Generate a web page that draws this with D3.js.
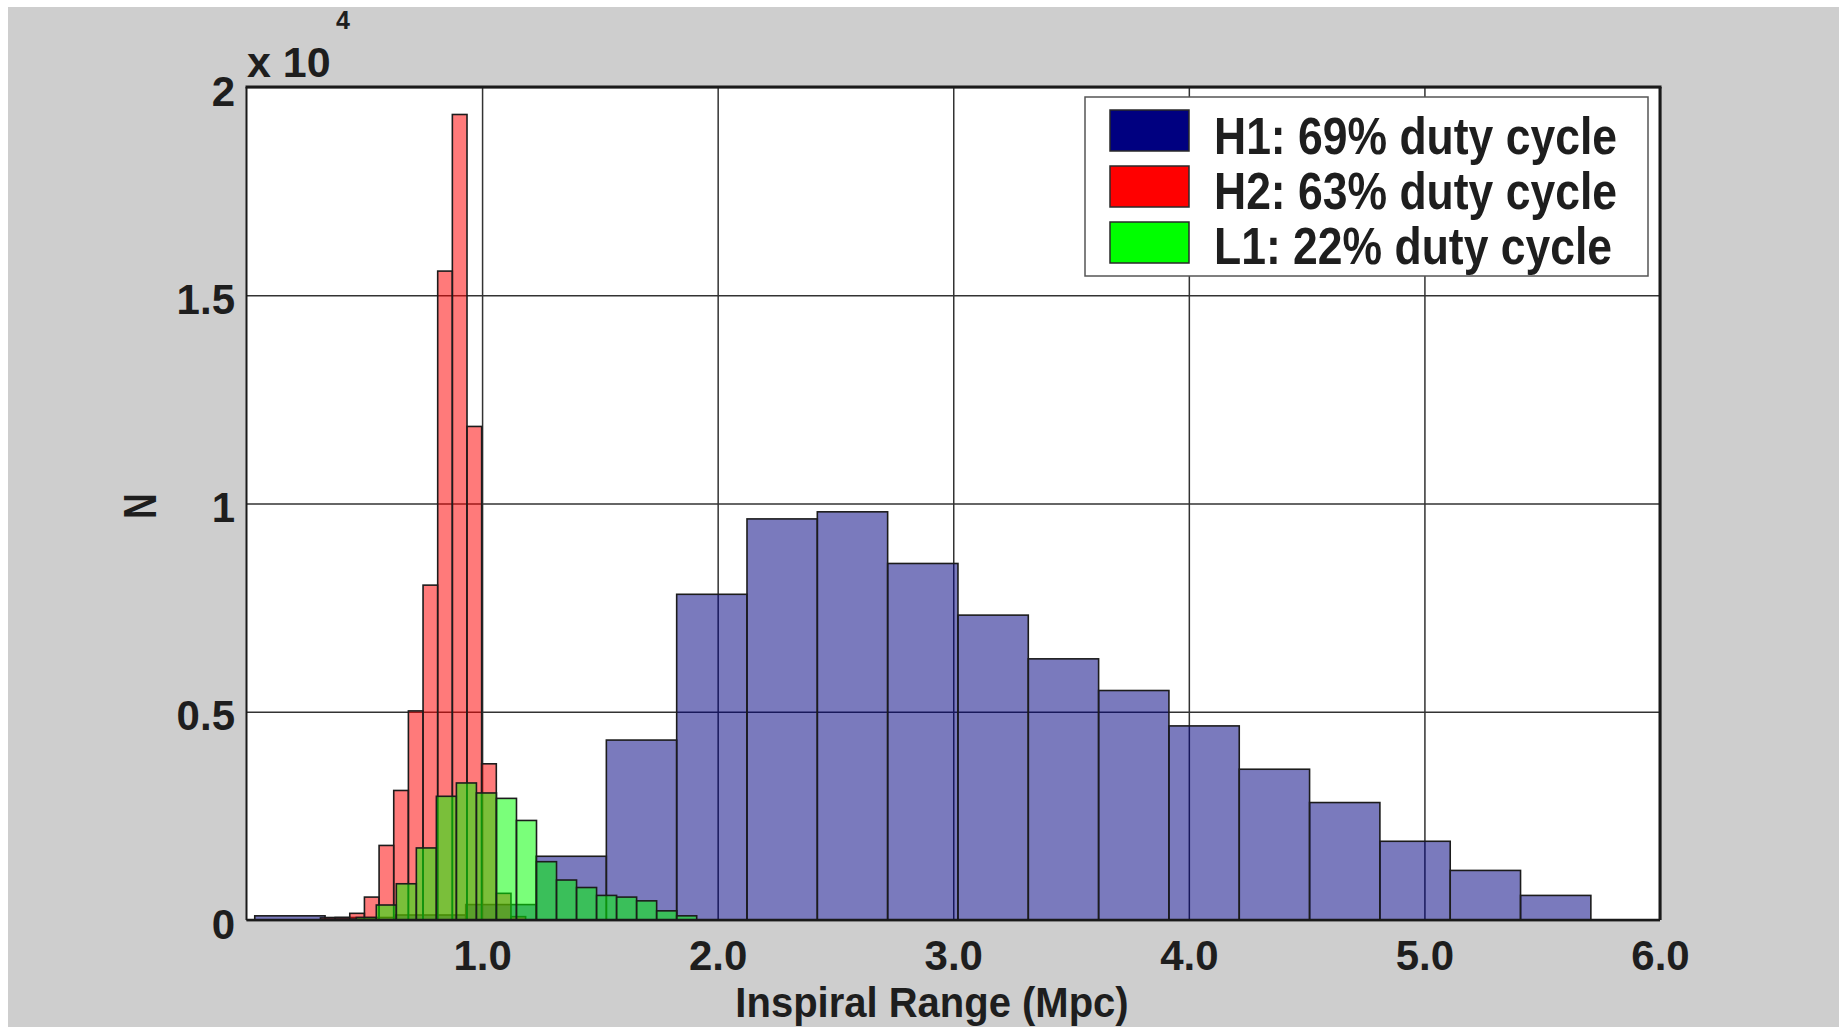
<!DOCTYPE html>
<html>
<head>
<meta charset="utf-8">
<script src="https://cdn.jsdelivr.net/npm/d3@7"></script>
<style>
  body { margin: 0; background: #ffffff; }
  svg text { font-family: "Liberation Sans", Arial, sans-serif; font-weight: bold; fill: #1e1e1e; }
</style>
</head>
<body>
<div id="histogram-inspiral-range"></div>
<script>
// histogram data: first bin edge, bin width (Mpc), counts per bin
const h1Start = 0.035, h1Width = 0.2985
const h1Counts = [100, 60, 120, 370, 1530, 4320, 7820, 9630, 9800, 8560, 7320, 6270, 5510, 4660, 3620, 2820, 1890, 1190, 590]

const h2Start = 0.314, h2Width = 0.0622
const h2Counts = [50, 60, 160, 550, 1790, 3110, 5020, 8040, 15580, 19340, 11850, 3750, 640, 80]

const l1Start = 0.381, l1Width = 0.085
const l1Counts = [20, 60, 360, 870, 1730, 2970, 3290, 3050, 2920, 2390, 1400, 960, 780, 590, 550, 460, 220, 100]

const detectors = ["H1", "H2", "L1"]
const legendLabels = ["H1: 69% duty cycle", "H2: 63% duty cycle", "L1: 22% duty cycle"]
const xTicks = [1, 2, 3, 4, 5, 6]
const yTicks = [0, 0.5e4, 1e4, 1.5e4, 2e4]

const W = 1839, H = 1027
const margin = {top: 87, right: 179, bottom: 107, left: 246.5},
    width = W - margin.left - margin.right,
    height = H - margin.top - margin.bottom;

const svg = d3.select("#histogram-inspiral-range")
  .append("svg")
  .attr("width", W)
  .attr("height", H)

// page background (thin white strip on top/left as in the picture)
svg.append("rect").attr("width", W).attr("height", H).attr("fill", "#ffffff")
svg.append("rect").attr("x", 8).attr("y", 7).attr("width", W - 8).attr("height", H - 7).attr("fill", "#cecece")

const g = svg.append("g")
  .attr("transform", `translate(${margin.left},${margin.top})`)

g.append("rect").attr("width", width).attr("height", height).attr("fill", "#ffffff")

const x = d3.scaleLinear().domain([0, 6]).range([0, width])
const y = d3.scaleLinear().domain([0, 2e4]).range([height, 0])

// X axis + vertical grid
const xAxis = g.append("g")
  .attr("transform", `translate(0, ${height})`)
  .call(d3.axisBottom(x).tickValues(xTicks).tickSize(-height).tickPadding(20).tickFormat(d3.format(".1f")))
xAxis.select(".domain").remove()
xAxis.selectAll("line").attr("stroke", "#333").attr("stroke-width", 1.5)
xAxis.selectAll("text")
  .style("font-size", "42px")
  .attr("fill", "#1e1e1e")

// Y axis + horizontal grid
const yAxis = g.append("g")
  .call(d3.axisLeft(y).tickValues(yTicks).tickSize(-width).tickPadding(11.5).tickFormat(d => d / 1e4))
yAxis.select(".domain").remove()
yAxis.selectAll("line").attr("stroke", "#333").attr("stroke-width", 1.5)
yAxis.selectAll("text")
  .style("font-size", "42px")
  .attr("dy", "18px")
  .attr("fill", "#1e1e1e")

// bars
function drawHist(start, binWidth, counts, color) {
  const bins = counts.map((c, i) => ({x0: start + i * binWidth, x1: start + (i + 1) * binWidth, n: c}))
  g.append("g")
    .selectAll("rect")
    .data(bins)
    .join("rect")
      .attr("x", d => x(d.x0))
      .attr("width", d => x(d.x1) - x(d.x0))
      .attr("y", d => y(d.n))
      .attr("height", d => y(0) - y(d.n))
      .attr("fill", color)
      .attr("fill-opacity", 0.52)
      .attr("stroke", "#1c1c1c")
      .attr("stroke-width", 1.6)
}

const color = d3.scaleOrdinal()
  .domain(detectors)
  .range(["#000080", "#ff0000", "#00ff00"])

drawHist(h1Start, h1Width, h1Counts, color("H1"))
drawHist(h2Start, h2Width, h2Counts, color("H2"))
drawHist(l1Start, l1Width, l1Counts, color("L1"))

// axes frame
g.append("line").attr("x1", 0).attr("x2", 0).attr("y1", 0).attr("y2", height).attr("stroke", "#1a1a1a").attr("stroke-width", 2)
g.append("line").attr("x1", 0).attr("x2", width).attr("y1", height).attr("y2", height).attr("stroke", "#1a1a1a").attr("stroke-width", 2.4)
g.append("line").attr("x1", -1).attr("x2", width + 1.5).attr("y1", 0).attr("y2", 0).attr("stroke", "#1a1a1a").attr("stroke-width", 3)
g.append("line").attr("x1", width).attr("x2", width).attr("y1", 0).attr("y2", height).attr("stroke", "#1a1a1a").attr("stroke-width", 3)

// exponent
svg.append("text")
  .attr("x", 247).attr("y", 76.5)
  .style("font-size", "43px")
  .text("x 10")
svg.append("text")
  .attr("x", 336).attr("y", 29)
  .style("font-size", "25px")
  .text("4")

// y label
svg.append("text")
  .attr("transform", "translate(140, 506) rotate(-90) scale(1, 1.3)")
  .attr("y", 12.5)
  .attr("text-anchor", "middle")
  .style("font-size", "35px")
  .text("N")

// x label
svg.append("text")
  .attr("transform", "translate(932, 1017) scale(1, 1.05)")
  .attr("text-anchor", "middle")
  .style("font-size", "40px")
  .text("Inspiral Range (Mpc)")

// legend
const legend = svg.append("g")
  .attr("transform", "translate(1085, 97)")
legend.append("rect")
  .attr("width", 563).attr("height", 179)
  .attr("fill", "#ffffff")
  .attr("stroke", "#555")
  .attr("stroke-width", 1.5)

legend.selectAll("rect.swatch")
  .data(detectors)
  .join("rect")
    .attr("class", "swatch")
    .attr("x", 25)
    .attr("y", (d, i) => 13 + i * 56)
    .attr("width", 79)
    .attr("height", 41)
    .attr("fill", d => color(d))
    .attr("stroke", "#2a2a2a")
    .attr("stroke-width", 1.5)

legend.selectAll("text")
  .data(legendLabels)
  .join("text")
    .attr("transform", (d, i) => `translate(129, ${57 + i * 55}) scale(1, 1.18)`)
    .style("font-size", "44.5px")
    .attr("fill", "#111")
    .text(d => d)
</script>
</body>
</html>
